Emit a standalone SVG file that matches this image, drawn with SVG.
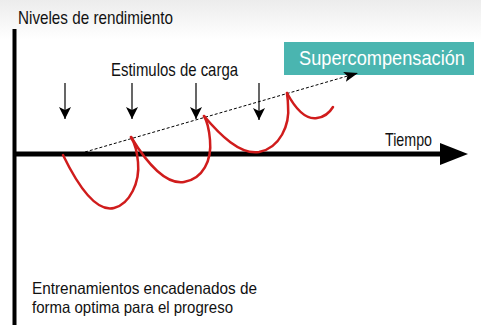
<svg xmlns="http://www.w3.org/2000/svg" width="481" height="325" viewBox="0 0 481 325">
<defs>
<linearGradient id="bg" x1="0" y1="0" x2="0" y2="1">
<stop offset="0" stop-color="#ececec"/>
<stop offset="0.12" stop-color="#ffffff"/>
<stop offset="1" stop-color="#ffffff"/>
</linearGradient>
<marker id="down" viewBox="0 0 12 12" refX="12" refY="6" markerWidth="12" markerHeight="12" markerUnits="userSpaceOnUse" orient="auto">
<path d="M0,0 L12,6 L0,12 L3,6 Z" fill="#000"/>
</marker>
<marker id="dash" viewBox="0 0 14 10" refX="14" refY="5" markerWidth="14" markerHeight="10" markerUnits="userSpaceOnUse" orient="auto">
<path d="M0,0 L14,5 L0,10 L3,5 Z" fill="#000"/>
</marker>
</defs>
<style>
text{font-family:"Liberation Sans Narrow","Liberation Sans",Arial,sans-serif;fill:#111}
.lbl{font-size:18.5px}
.cap{font-size:16.5px}
.red{fill:none;stroke:#d01c1c;stroke-width:2.5;stroke-linecap:round}
.stim{stroke:#000;stroke-width:1.2;fill:none}
</style>
<rect width="481" height="325" fill="url(#bg)"/>
<g id="axes">
<line x1="14.5" y1="29" x2="14.5" y2="325" stroke="#000" stroke-width="4"/>
<line x1="13" y1="154" x2="442" y2="154" stroke="#000" stroke-width="5"/>
<path d="M440,143 L468,154 L440,165 Z" fill="#000"/>
</g>
<g id="y-label"><text class="lbl" x="18" y="24" textLength="155" lengthAdjust="spacingAndGlyphs">Niveles de rendimiento</text></g>
<g id="x-label"><text class="lbl" x="385" y="146" textLength="47" lengthAdjust="spacingAndGlyphs">Tiempo</text></g>
<g id="stimuli-label"><text class="lbl" x="111" y="76" textLength="127" lengthAdjust="spacingAndGlyphs">Estimulos de carga</text></g>
<g id="supercomp">
<rect x="284" y="42" width="190" height="33" fill="#4ab5b0"/>
<text x="299" y="65" font-size="20" textLength="166" lengthAdjust="spacingAndGlyphs" style="fill:#fff">Supercompensación</text>
</g>
<g id="caption">
<text class="cap" x="32" y="294" textLength="225" lengthAdjust="spacingAndGlyphs">Entrenamientos encadenados de</text>
<text class="cap" x="32" y="312.5" textLength="201" lengthAdjust="spacingAndGlyphs">forma optima para el progreso</text>
</g>
<g id="connectors">
<line class="stim" x1="65" y1="83" x2="65" y2="119" marker-end="url(#down)"/>
<line class="stim" x1="132" y1="83" x2="132" y2="119" marker-end="url(#down)"/>
<line class="stim" x1="196" y1="83" x2="196" y2="119" marker-end="url(#down)"/>
<line class="stim" x1="259" y1="83" x2="259" y2="120" marker-end="url(#down)" stroke="#444"/>
<line x1="85" y1="152" x2="358" y2="73" stroke="#000" stroke-width="1" stroke-dasharray="3,2" marker-end="url(#dash)"/>
</g>
<g id="curves">
<path class="red" d="M63,155 C80,190 98,212 114,208 C130,204 140,182 138,162 C137,150 134,142 131,137"/>
<path class="red" d="M131,137 C145,160 165,185 184,182 C203,179 212,160 210,140 C209,128 207,121 204,116"/>
<path class="red" d="M204,116 C220,135 240,155 259,152 C280,148 290,125 288,105 C288,99 287,96 287,93"/>
<path class="red" d="M287,93 C295,108 305,120 317,118 C325,117 330,112 333,107"/>
</g>
</svg>
